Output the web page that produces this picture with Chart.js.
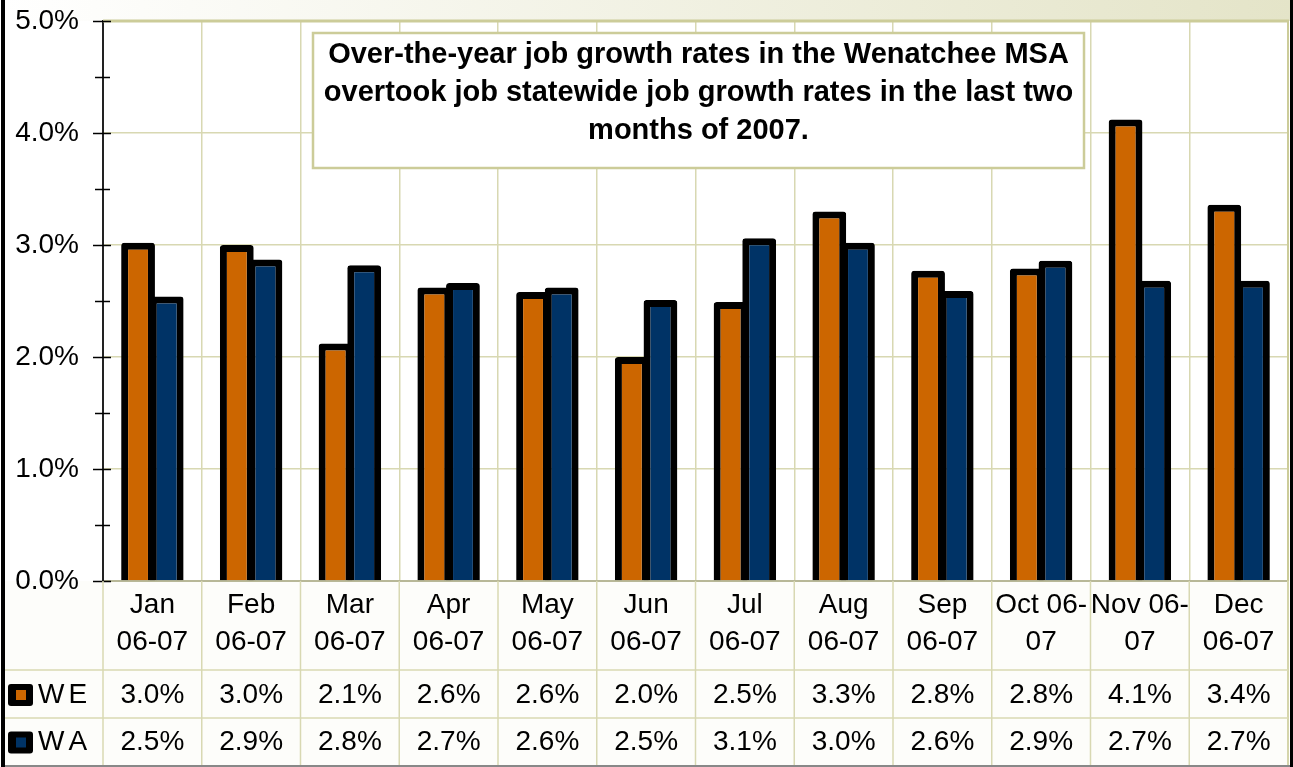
<!DOCTYPE html>
<html>
<head>
<meta charset="utf-8">
<script src="https://cdn.jsdelivr.net/npm/chart.js@4.4.1/dist/chart.umd.min.js"></script>
<style>
html,body{margin:0;padding:0;background:#fff;}
#wrap{position:relative;width:1293px;height:767px;}
</style>
</head>
<body>
<div id="wrap"><canvas id="c"></canvas></div>
<script>
const categories = [['Jan','06-07'],['Feb','06-07'],['Mar','06-07'],['Apr','06-07'],['May','06-07'],['Jun','06-07'],['Jul','06-07'],['Aug','06-07'],['Sep','06-07'],['Oct 06-','07'],['Nov 06-','07'],['Dec','06-07']];
const seriesNames = ['WE','WA'];
const weValues = [3.02, 3.00, 2.12, 2.62, 2.58, 2.00, 2.49, 3.30, 2.77, 2.79, 4.12, 3.36];
const waValues = [2.54, 2.87, 2.82, 2.66, 2.62, 2.51, 3.06, 3.02, 2.59, 2.86, 2.68, 2.68];
const yTickValues = [0, 1, 2, 3, 4, 5];
const titleLines = ['Over-the-year job growth rates in the Wenatchee MSA','overtook job statewide job growth rates in the last two','months of 2007.'];

const FONT = "'Liberation Sans', Arial, sans-serif";
const GRID = '#d8d8b2';
const BEIGE = '#cccc99';
const seriesColors = ['#cc6600', '#003366'];
const seriesValues = [weValues, waValues];

function isMajor(v){ return yTickValues.some(t => Math.abs(t - v) < 1e-6); }

const decor = {
  id: 'decor',
  beforeDraw(chart) {
    const {ctx, chartArea} = chart;
    ctx.save();
    const g = ctx.createLinearGradient(0, 0, chart.width, 0);
    g.addColorStop(0, '#ffffff');
    g.addColorStop(1, '#e4e4c8');
    ctx.fillStyle = g;
    ctx.fillRect(0, 0, chart.width, chartArea.top);
    ctx.fillStyle = '#fdfdfa';
    ctx.fillRect(4, chartArea.bottom, chartArea.right - 4, chart.height - chartArea.bottom);
    ctx.restore();
  },
  afterDraw(chart) {
    const {ctx, chartArea, scales} = chart;
    const x = scales.x, y = scales.y;
    ctx.save();
    ctx.strokeStyle = BEIGE;
    ctx.lineWidth = 3;
    ctx.beginPath(); ctx.moveTo(chartArea.left, chartArea.top); ctx.lineTo(chartArea.right + 1, chartArea.top); ctx.stroke();
    ctx.lineWidth = 2;
    ctx.beginPath(); ctx.moveTo(chartArea.right, chartArea.top); ctx.lineTo(chartArea.right, chart.height - 2); ctx.stroke();
    // y-axis tick marks crossing the axis
    ctx.strokeStyle = '#000';
    ctx.lineWidth = 1.5;
    y.ticks.forEach(t => {
      const py = Math.round(y.getPixelForValue(t.value)) + 0.5;
      const major = isMajor(t.value);
      ctx.beginPath();
      ctx.moveTo(chartArea.left - (major ? 10 : 8), py);
      ctx.lineTo(chartArea.left + (major ? 8 : 7), py);
      ctx.stroke();
    });
    // data table
    const n = categories.length;
    const half = (x.getPixelForValue(1) - x.getPixelForValue(0)) / 2;
    const rowTop = [chartArea.bottom, 670, 718, chart.height - 2];
    ctx.strokeStyle = GRID;
    ctx.lineWidth = 1.5;
    for (let i = 0; i <= n; i++) {
      const px = (i < n ? x.getPixelForValue(i) - half : x.getPixelForValue(n - 1) + half);
      ctx.beginPath(); ctx.moveTo(px, chartArea.bottom); ctx.lineTo(px, rowTop[3]); ctx.stroke();
    }
    [rowTop[1], rowTop[2]].forEach(ry => {
      ctx.beginPath(); ctx.moveTo(4, ry); ctx.lineTo(chartArea.right, ry); ctx.stroke();
    });
    ctx.font = '28px ' + FONT;
    ctx.fillStyle = '#000';
    ctx.textAlign = 'center';
    ctx.textBaseline = 'middle';
    seriesValues.forEach((vals, s) => {
      const cy = (rowTop[s + 1] + rowTop[s + 2]) / 2 + 1;
      vals.forEach((v, i) => {
        ctx.fillText(v.toFixed(1) + '%', x.getPixelForValue(i), cy);
      });
      const ky = cy - 11;
      ctx.fillStyle = '#000';
      ctx.beginPath();
      if (ctx.roundRect) ctx.roundRect(8, ky, 25, 22, 3); else ctx.rect(8, ky, 25, 22);
      ctx.fill();
      ctx.fillStyle = seriesColors[s];
      ctx.fillRect(16, ky + 6, 10, 10);
      ctx.fillStyle = '#000';
      ctx.textAlign = 'left';
      let tx = 38;
      for (const ch of seriesNames[s]) { ctx.fillText(ch, tx, cy); tx += ctx.measureText(ch).width + 4; }
      ctx.textAlign = 'center';
    });
    ctx.fillStyle = '#888';
    ctx.fillRect(4, chart.height - 2, chartArea.right - 2, 2);
    ctx.fillStyle = '#000';
    ctx.fillRect(1, 0, 4, chart.height);
    ctx.fillRect(1290, 0, 3, chart.height);
    // annotation box
    const bx = 313, by = 33, bw = 771, bh = 135;
    ctx.fillStyle = '#fff';
    ctx.fillRect(bx, by, bw, bh);
    ctx.strokeStyle = BEIGE;
    ctx.lineWidth = 2.5;
    ctx.strokeRect(bx, by, bw, bh);
    ctx.fillStyle = '#000';
    ctx.font = 'bold 29px ' + FONT;
    ctx.textAlign = 'center';
    ctx.textBaseline = 'middle';
    titleLines.forEach((ln, i) => ctx.fillText(ln, bx + bw / 2, 55 + i * 38));
    ctx.restore();
  }
};

new Chart(document.getElementById('c'), {
  type: 'bar',
  data: {
    labels: categories,
    datasets: seriesNames.map((name, s) => ({
      label: name,
      data: seriesValues[s],
      backgroundColor: seriesColors[s],
      borderColor: '#000',
      borderWidth: 7,
      borderRadius: 3,
      borderSkipped: 'bottom',
      categoryPercentage: 0.58,
      barPercentage: 1.18
    }))
  },
  options: {
    responsive: true,
    maintainAspectRatio: false,
    animation: false,
    devicePixelRatio: 1,
    layout: { padding: { top: 21, right: 5, bottom: 0, left: 0 } },
    plugins: { legend: { display: false }, title: { display: false }, tooltip: { enabled: false } },
    scales: {
      x: {
        offset: true,
        grid: { color: GRID, lineWidth: 1.5, drawTicks: false, offset: true },
        border: { display: true, color: '#b8b898', width: 2 },
        ticks: { color: '#000', font: { family: FONT, size: 28, lineHeight: 1.32 }, padding: 6, maxRotation: 0, autoSkip: false },
        afterFit(scale) { scale.height = 186; }
      },
      y: {
        min: 0, max: 5,
        ticks: {
          stepSize: 0.5,
          color: '#000',
          font: { family: FONT, size: 28 },
          padding: 0,
          callback: v => isMajor(v) ? v.toFixed(1) + '%' : ''
        },
        grid: {
          color: ctx => (ctx.tick && isMajor(ctx.tick.value) && ctx.tick.value > 0) ? GRID : 'rgba(0,0,0,0)',
          lineWidth: 1.5,
          drawTicks: true,
          tickLength: 24,
          tickColor: 'rgba(0,0,0,0)'
        },
        border: { display: true, color: '#222', width: 2 },
        afterFit(scale) { scale.width = 103; }
      }
    }
  },
  plugins: [decor]
});
</script>
</body>
</html>
